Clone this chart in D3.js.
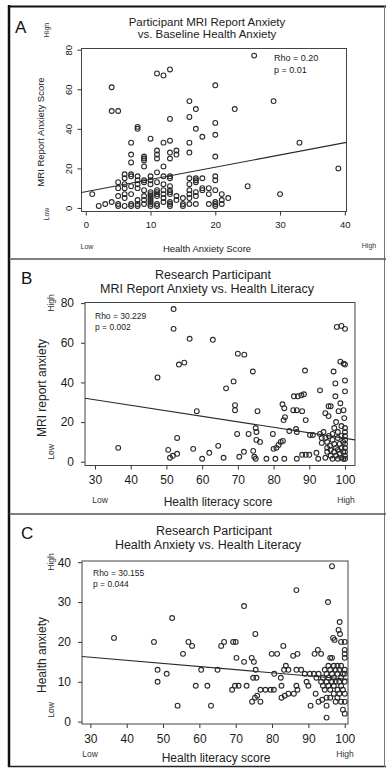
<!DOCTYPE html>
<html>
<head>
<meta charset="utf-8">
<script src="https://cdn.jsdelivr.net/npm/d3@7"></script>
<style>
  html, body { margin: 0; padding: 0; background: #fff; }
  svg { display: block; font-family: "Liberation Sans", Arial, sans-serif; }
  .tick text { fill: #1a1a1a; }
</style>
</head>
<body>
<div id="chart-container"></div>
<script>
// panel A: baseline health anxiety score (x) vs MRI report anxiety score (y)
const pointsA = [
  [1, 7], [2, 1], [3, 2], [4, 61], [4, 3], [4, 49], [5, 49],
  [5, 13], [5, 10], [5, 6], [5, 1], [5, 2],
  [6, 17], [6, 15], [6, 12], [6, 10], [6, 7], [6, 5], [6, 1],
  [7, 33], [7, 27], [7, 23], [7, 17], [7, 16], [7, 11], [7, 7], [7, 2], [7, 1],
  [8, 41], [8, 40], [8, 16], [8, 14], [8, 12], [8, 10], [8, 4], [8, 2], [8, 1],
  [9, 26], [9, 25], [9, 24], [9, 21], [9, 14], [9, 13], [9, 9], [9, 6], [9, 4], [9, 2],
  [10, 35], [10, 16], [10, 14], [10, 12], [10, 8], [10, 7], [10, 6], [10, 5], [10, 4], [10, 3], [10, 2], [10, 1],
  [11, 68], [11, 29], [11, 27], [11, 25], [11, 18], [11, 13], [11, 9], [11, 8], [11, 7], [11, 6], [11, 2], [11, 1],
  [12, 67], [12, 33], [12, 21], [12, 16], [12, 12], [12, 9], [12, 7], [12, 5], [12, 3],
  [13, 70], [13, 45], [13, 34], [13, 28], [13, 25], [13, 16], [13, 15], [13, 11], [13, 9], [13, 8], [13, 7], [13, 3], [13, 2], [13, 1],
  [14, 29], [14, 27], [14, 6], [14, 4], [15, 5], [15, 2], [15, 1],
  [16, 54], [16, 46], [16, 33], [16, 28], [16, 15], [16, 12], [16, 9], [16, 7], [16, 5], [16, 2],
  [17, 50], [17, 40], [17, 15], [17, 14], [17, 13], [17, 8], [17, 6], [17, 2],
  [18, 36], [18, 15], [18, 10], [18, 9], [19, 10], [19, 7], [19, 2],
  [20, 62], [20, 43], [20, 37], [20, 26], [20, 16], [20, 14], [20, 9], [20, 3], [20, 2], [20, 1],
  [21, 7], [21, 4], [21, 2], [22, 5], [23, 50], [25, 11], [26, 77], [29, 54], [30, 7], [33, 33], [39, 20]
];

// panel B: health literacy score (x) vs MRI report anxiety (y)
const pointsB = [
  [36.5, 7], [47.5, 42.5], [52, 77], [52, 67], [53.5, 49], [55, 50], [56.5, 62], [63, 61.5], [58.5, 25.5],
  [50.5, 6], [51, 2], [51.8, 3], [53, 4], [53, 12], [57.5, 6.5], [60, 1.5], [62, 4.5], [64.5, 8], [66, 2],
  [66.7, 37], [68.8, 40.5], [69.2, 28.5], [69.2, 26], [70, 54.5], [71.8, 54], [69.8, 14], [70.4, 2.5],
  [71.7, 5], [73, 14], [74.2, 45.5], [74.3, 5.5], [74.6, 2.5], [75, 1.5], [75, 17], [75.2, 15], [75.5, 25.5],
  [75.2, 11], [76.2, 10], [78, 1.5], [79.8, 14], [80, 6.5], [80.8, 7], [81.4, 8.5], [82, 10], [80.5, 1.5],
  [82.5, 29], [83, 27], [82.8, 21], [83.2, 22.5], [83, 1.5], [82.6, 10.5], [84.4, 15.5], [85.5, 26], [86.5, 26],
  [88, 25.5], [85.7, 33], [86.8, 33], [87.8, 33.5], [88.5, 34], [88.8, 46], [89, 21], [86.3, 16.5], [86.5, 15],
  [86.5, 1.5], [88, 3.5], [89, 3.5], [90, 3.5], [90.2, 13.5], [91, 13.5], [93, 36], [92, 4.5], [92.5, 1.5],
  [93.5, 12], [93.5, 9.5], [93, 14], [94, 15], [94.5, 24.5], [95.4, 23], [95.4, 28], [96, 28], [94.5, 12],
  [95, 10], [95, 7], [95, 5], [94.5, 2], [95.5, 13], [95.8, 8], [96, 6], [96, 3], [96.5, 11], [96.5, 14],
  [96.5, 1.5], [97, 9], [97, 5], [97, 17], [96.8, 45.5], [97.3, 39.5], [97.3, 33], [97.5, 20], [97.5, 7],
  [97.5, 3], [98, 15], [98, 12], [98, 6], [98, 1.5], [98.2, 25.5], [98.5, 9], [98.5, 4], [98.7, 29.5],
  [98.7, 50.5], [97.7, 68], [99, 68.5], [99, 18], [99, 13], [99, 7], [99, 2], [99.5, 10], [99.5, 5],
  [99.6, 49.5], [99.6, 26], [100, 67], [100, 49], [100, 41], [100, 35.5], [100, 17], [100, 15], [100, 13],
  [100, 11], [100, 9], [100, 7], [100, 5], [100, 3], [100, 1.5], [99.5, 1.5], [99.8, 22]
];

// panel C: health literacy score (x) vs health anxiety (y)
const pointsC = [
  [36.5, 21], [47.5, 20], [52.5, 26], [48.5, 13], [48.5, 10], [51, 12], [54, 4], [55.5, 17], [57, 20], [58, 19],
  [59, 9], [60.5, 13], [62.2, 9], [63.2, 4], [65, 13], [66, 19], [66.8, 20], [69.3, 20], [70, 20], [69, 8],
  [69.8, 9], [70.8, 9], [70.2, 16], [72.3, 29], [72.3, 15], [73, 9], [74.4, 16], [75, 15], [75.4, 22],
  [74.5, 5], [75.3, 6], [75.9, 6.5], [74.8, 11], [75.7, 11], [75.5, 13], [76.8, 8], [78.2, 8], [79.6, 8],
  [80.5, 8], [76.8, 5], [79.9, 17], [81.4, 17], [80.6, 12], [82.4, 11], [82.6, 9], [83.1, 19], [83.3, 13],
  [83.8, 14], [84.5, 13], [82.6, 6], [83.5, 6.5], [84.5, 7], [86, 7], [86.7, 33], [85.8, 16.5], [87, 17],
  [86.7, 13], [88, 13], [89, 12], [86.7, 9], [87, 8], [89.5, 10], [90, 9], [90.4, 12], [90.6, 4], [91.5, 12],
  [92.2, 11], [92.8, 12], [91.7, 17], [92.6, 18], [93.5, 17], [92, 7], [92.8, 5], [93.8, 5.5], [95, 1],
  [95.4, 30], [96.5, 39], [98.6, 25], [98.3, 23], [98.7, 22], [96.8, 21], [97.2, 20.5], [99, 20], [100, 20],
  [100, 18], [100, 17], [100, 16], [99.5, 3], [100, 2],
  [93.5, 10], [94, 9], [94, 11], [94.5, 8], [94.5, 13], [95, 10], [95, 12], [95, 6], [95, 4], [95.5, 9],
  [95.5, 11], [95.5, 14], [96, 16], [96, 8], [96, 13], [96, 6], [96.5, 10], [96.5, 12], [96.5, 16], [97, 9],
  [97, 11], [97, 14], [97, 7], [97.5, 13], [97.5, 10], [97.5, 5], [98, 12], [98, 8], [98, 14], [98, 6],
  [98.5, 10], [98.5, 13], [98.5, 7], [99, 11], [99, 9], [99, 14], [99, 5], [99.5, 12], [99.5, 8], [100, 13],
  [100, 10], [100, 7], [100, 5], [100, 12]
];

// fitted lines [intercept, slope]
const fitA = [8.2, 0.62];
const fitB = [39.6, -0.278];
const fitC = [18.5, -0.078];

// tick values
const ticksAx = [0, 10, 20, 30, 40];
const ticksAy = [0, 20, 40, 60, 80];
const ticksLitX = [30, 40, 50, 60, 70, 80, 90, 100];
const ticksBy = [0, 20, 40, 60, 80];
const ticksCy = [0, 10, 20, 30, 40];

// texts
const titlesA = ["Participant MRI Report Anxiety", "vs. Baseline Health Anxiety"];
const titlesB = ["Research Participant", "MRI Report Anxiety vs. Health Literacy"];
const titlesC = ["Research Participant", "Health Anxiety vs. Health Literacy"];
const statsA = ["Rho = 0.20", "p = 0.01"];
const statsB = ["Rho = 30.229", "p = 0.002"];
const statsC = ["Rho = 30.155", "p = 0.044"];

const W = 386, H = 769;

const svg = d3.select("#chart-container")
    .append("svg")
    .attr("width", W)
    .attr("height", H)
    .attr("viewBox", `0 0 ${W} ${H}`);

// outer frame
svg.append("line").attr("x1", 9).attr("x2", 9).attr("y1", 5).attr("y2", 767)
    .attr("stroke", "#111").attr("stroke-width", 2.5);
svg.append("line").attr("x1", 8).attr("x2", W).attr("y1", 6.5).attr("y2", 6.5)
    .attr("stroke", "#111").attr("stroke-width", 2);
svg.append("line").attr("x1", 8).attr("x2", W).attr("y1", 766.5).attr("y2", 766.5)
    .attr("stroke", "#222").attr("stroke-width", 1.5);
svg.append("line").attr("x1", 384.5).attr("x2", 384.5).attr("y1", 6).attr("y2", 767)
    .attr("stroke", "#777").attr("stroke-width", 1);
[259, 514].forEach(yy => {
    svg.append("line").attr("x1", 9).attr("x2", W).attr("y1", yy).attr("y2", yy)
        .attr("stroke", "#555").attr("stroke-width", 1.5);
});

function drawPanel(cfg) {
    const g = svg.append("g");

    const x = d3.scaleLinear().domain(cfg.xDomain).range([cfg.box.left, cfg.box.right]);
    const y = d3.scaleLinear().domain(cfg.yDomain).range([cfg.box.bottom, cfg.box.top]);

    // panel letter
    g.append("text")
        .attr("x", cfg.letterPos[0]).attr("y", cfg.letterPos[1])
        .attr("font-size", 17).attr("fill", "#111")
        .text(cfg.letter);

    // title
    cfg.titles.forEach((t, i) => {
        g.append("text")
            .attr("x", cfg.titlePos[i][0]).attr("y", cfg.titlePos[i][1])
            .attr("text-anchor", "middle")
            .attr("font-size", cfg.titleSize).attr("fill", "#222")
            .text(t);
    });

    // x axis
    const xAxis = g.append("g")
        .attr("transform", `translate(0,${cfg.box.bottom})`)
        .call(d3.axisBottom(x).tickValues(cfg.xTicks).tickSize(4).tickSizeOuter(0).tickPadding(4));
    xAxis.select(".domain").remove();
    xAxis.selectAll("line").attr("stroke", "#333");
    xAxis.selectAll("text").attr("font-size", cfg.tickSize).attr("font-family", "Liberation Sans, Arial")
        .attr("y", cfg.xTickLabelDy);

    // y axis
    const yAxis = g.append("g")
        .attr("transform", `translate(${cfg.box.left},0)`)
        .call(d3.axisLeft(y).tickValues(cfg.yTicks).tickSize(4).tickSizeOuter(0).tickPadding(4));
    yAxis.select(".domain").remove();
    yAxis.selectAll("line").attr("stroke", "#333");
    if (cfg.rotateYTicks) {
        // R style (las = 0): labels read upwards, centred on the tick
        yAxis.selectAll("text").remove();
        yAxis.selectAll(".tick")
            .append("text")
            .attr("transform", `translate(${-cfg.yTickOffset},0) rotate(-90)`)
            .attr("text-anchor", "middle")
            .attr("fill", "#1a1a1a")
            .attr("font-size", cfg.tickSize)
            .text(d => d);
    } else {
        yAxis.selectAll("text").attr("font-size", cfg.tickSize)
            .attr("font-family", "Liberation Sans, Arial")
            .attr("x", -cfg.yTickOffset);
    }

    // box
    g.append("rect")
        .attr("x", cfg.box.left).attr("y", cfg.box.top)
        .attr("width", cfg.box.right - cfg.box.left)
        .attr("height", cfg.box.bottom - cfg.box.top)
        .attr("fill", "none").attr("stroke", "#444").attr("stroke-width", 1);

    // axis labels
    g.append("text")
        .attr("x", cfg.xLabelPos[0]).attr("y", cfg.xLabelPos[1])
        .attr("text-anchor", "middle").attr("font-size", cfg.labelSize).attr("fill", "#222")
        .text(cfg.xLabel);
    g.append("text")
        .attr("transform", `translate(${cfg.yLabelPos[0]},${cfg.yLabelPos[1]}) rotate(-90)`)
        .attr("text-anchor", "middle").attr("font-size", cfg.labelSize).attr("fill", "#222")
        .text(cfg.yLabel);

    // low / high markers
    g.append("text").attr("x", cfg.lowX[0]).attr("y", cfg.lowX[1])
        .attr("text-anchor", "middle").attr("font-size", cfg.lhSize).attr("fill", "#333").text("Low");
    g.append("text").attr("x", cfg.highX[0]).attr("y", cfg.highX[1])
        .attr("text-anchor", "middle").attr("font-size", cfg.lhSize).attr("fill", "#333").text("High");
    g.append("text")
        .attr("transform", `translate(${cfg.lowY[0]},${cfg.lowY[1]}) rotate(-90)`)
        .attr("text-anchor", "middle").attr("font-size", cfg.lhSize).attr("fill", "#333").text("Low");
    g.append("text")
        .attr("transform", `translate(${cfg.highY[0]},${cfg.highY[1]}) rotate(-90)`)
        .attr("text-anchor", "middle").attr("font-size", cfg.lhSize).attr("fill", "#333").text("High");

    // stats
    cfg.stats.forEach((t, i) => {
        g.append("text")
            .attr("x", cfg.statsPos[0]).attr("y", cfg.statsPos[1] + i * cfg.statsGap)
            .attr("font-size", cfg.statsSize).attr("fill", "#222")
            .text(t);
    });

    // clip for the fitted line
    const clipId = "clip" + cfg.letter;
    g.append("clipPath").attr("id", clipId)
        .append("rect")
        .attr("x", cfg.box.left).attr("y", cfg.box.top)
        .attr("width", cfg.box.right - cfg.box.left)
        .attr("height", cfg.box.bottom - cfg.box.top);

    // points
    g.append("g")
        .selectAll("circle")
        .data(cfg.points)
        .enter()
        .append("circle")
        .attr("cx", d => x(d[0]))
        .attr("cy", d => y(d[1]))
        .attr("r", 2.4)
        .attr("fill", "none")
        .attr("stroke", "#2a2a2a")
        .attr("stroke-width", 1.1);

    // fitted line
    const xd = x.domain();
    g.append("line")
        .attr("clip-path", `url(#${clipId})`)
        .attr("x1", x(xd[0])).attr("y1", y(cfg.fit[0] + cfg.fit[1] * xd[0]))
        .attr("x2", x(xd[1])).attr("y2", y(cfg.fit[0] + cfg.fit[1] * xd[1]))
        .attr("stroke", "#2a2a2a").attr("stroke-width", 1.1);
}

drawPanel({
    letter: "A", letterPos: [15, 33],
    titles: titlesA, titlePos: [[207, 26], [207, 38]], titleSize: 11.5,
    box: { left: 81.5, right: 346.5, top: 48.5, bottom: 211.5 },
    xDomain: [-0.66, 40.26], yDomain: [-1.8, 80.6],
    xTicks: ticksAx, yTicks: ticksAy, tickSize: 9.5, xTickLabelDy: 10,
    rotateYTicks: true, yTickOffset: 10,
    xLabel: "Health Anxiety Score", xLabelPos: [207, 252],
    yLabel: "MRI Report Anxiety Score", yLabelPos: [44, 132], labelSize: 9.5,
    lowX: [87, 249], highX: [369, 248], lowY: [49, 214], highY: [49, 30], lhSize: 7,
    stats: statsA, statsPos: [274, 61], statsGap: 12, statsSize: 9,
    points: pointsA, fit: fitA
});

drawPanel({
    letter: "B", letterPos: [21, 284],
    titles: titlesB, titlePos: [[213, 279], [207, 293]], titleSize: 12.5,
    box: { left: 85, right: 355, top: 302.5, bottom: 465.5 },
    xDomain: [27.2, 102.8], yDomain: [-1.9, 80.3],
    xTicks: ticksLitX, yTicks: ticksBy, tickSize: 12, xTickLabelDy: 10,
    rotateYTicks: false, yTickOffset: 11,
    xLabel: "Health literacy score", xLabelPos: [218, 506],
    yLabel: "MRI report anxiety", yLabelPos: [46, 388], labelSize: 12,
    lowX: [100, 503], highX: [346, 503], lowY: [54, 452], highY: [54, 303], lhSize: 8.5,
    stats: statsB, statsPos: [95, 319], statsGap: 11, statsSize: 8.5,
    points: pointsB, fit: fitB
});

drawPanel({
    letter: "C", letterPos: [21, 539],
    titles: titlesC, titlePos: [[214, 535], [208, 549]], titleSize: 12.5,
    box: { left: 82, right: 348, top: 561, bottom: 724 },
    xDomain: [27.7, 100.9], yDomain: [-0.6, 40.3],
    xTicks: ticksLitX, yTicks: ticksCy, tickSize: 12, xTickLabelDy: 10,
    rotateYTicks: false, yTickOffset: 11,
    xLabel: "Health literacy score", xLabelPos: [216, 762],
    yLabel: "Health anxiety", yLabelPos: [46, 655], labelSize: 12,
    lowX: [90, 757], highX: [345, 757], lowY: [54, 710], highY: [54, 562], lhSize: 8.5,
    stats: statsC, statsPos: [93, 576], statsGap: 11, statsSize: 8.5,
    points: pointsC, fit: fitC
});
</script>
</body>
</html>
